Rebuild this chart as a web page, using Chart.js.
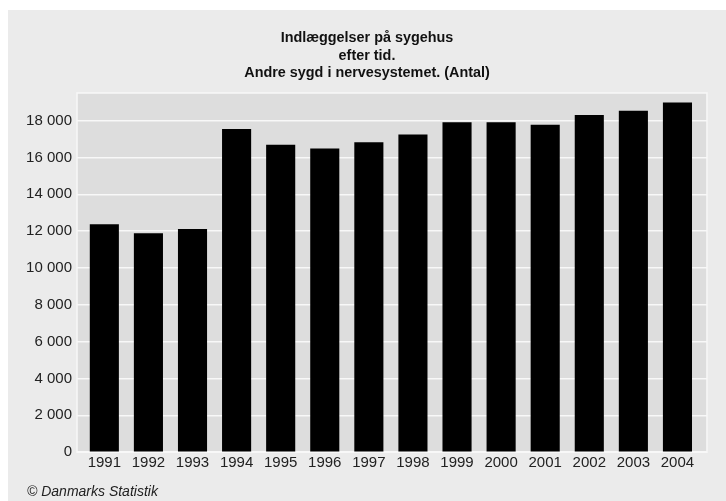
<!DOCTYPE html>
<html>
<head>
<meta charset="utf-8">
<script src="https://cdn.jsdelivr.net/npm/chart.js@4"></script>
<style>
  html, body { margin: 0; padding: 0; background: #ffffff; }
  #panel { position: absolute; left: 8px; top: 10px; width: 718px; height: 491px; background: #ebebeb; }
</style>
</head>
<body>
<div id="panel"><canvas id="myChart" width="718" height="491"></canvas></div>
<script>
// aar og antal indlaeggelser
const years = [1991, 1992, 1993, 1994, 1995, 1996, 1997, 1998, 1999, 2000, 2001, 2002, 2003, 2004];
const counts = [12380, 11890, 12110, 17550, 16690, 16490, 16820, 17240, 17910, 17910, 17780, 18310, 18530, 18980];
const titleLines = ['Indlæggelser på sygehus', 'efter tid.', 'Andre sygd i nervesystemet. (Antal)'];
const sourceText = '© Danmarks Statistik';

// tusindtal med mellemrum
function fmt(v) {
    return String(v).replace(/\B(?=(\d{3})+(?!\d))/g, '\u00a0');
}

// graa plotflade med hvid kant
const plotBg = {
    id: 'plotBg',
    beforeDraw(chart) {
        const a = chart.chartArea;
        const ctx = chart.ctx;
        ctx.save();
        ctx.fillStyle = '#dddddd';
        ctx.fillRect(a.left, a.top, a.right - a.left, a.bottom - a.top);
        ctx.strokeStyle = '#f8f8f8';
        ctx.lineWidth = 1.5;
        ctx.strokeRect(a.left, a.top, a.right - a.left, a.bottom - a.top);
        ctx.restore();
    }
};

const data = {
    datasets: [{
        label: 'Antal',
        backgroundColor: '#000000',
        borderWidth: 0,
        barPercentage: 0.66,
        categoryPercentage: 1,
        data: years.map((y, i) => ({ x: y, y: counts[i] })),
    }]
};

const tickFont = { family: "'Liberation Sans', Arial, sans-serif", size: 15 };

const config = {
    type: 'bar',
    data: data,
    options: {
        responsive: false,
        animation: false,
        layout: { padding: { left: 19, right: 19, top: 0, bottom: 0 } },
        plugins: {
            legend: { display: false },
            tooltip: { enabled: false },
            title: {
                display: true,
                text: titleLines,
                color: '#111111',
                font: { family: "'Liberation Sans Narrow', 'Arial Narrow', 'Liberation Sans', sans-serif", size: 14.4, weight: 'bold', lineHeight: 1.215 },
                padding: { top: 19.5, bottom: 11 }
            },
            subtitle: {
                display: true,
                text: sourceText,
                position: 'bottom',
                align: 'start',
                color: '#222222',
                font: { family: "'Liberation Sans', Arial, sans-serif", size: 14, style: 'italic', lineHeight: 1.2 },
                padding: { top: 5, bottom: 0 }
            }
        },
        scales: {
            x: {
                type: 'linear',
                offset: false,
                min: 1990.38,
                max: 2004.67,
                afterFit: (s) => { s.height = 27; },
                grid: { display: false, drawTicks: false },
                border: { display: false },
                ticks: {
                    stepSize: 1,
                    includeBounds: false,
                    padding: 2,
                    color: '#222222',
                    font: tickFont,
                    callback: (v) => String(v)
                }
            },
            y: {
                beginAtZero: true,
                max: 19500,
                afterFit: (s) => { s.width = 50; },
                grid: { color: '#f8f8f8', lineWidth: 1.5, drawTicks: false },
                border: { display: false },
                ticks: {
                    stepSize: 2000,
                    includeBounds: false,
                    padding: 5,
                    color: '#222222',
                    font: tickFont,
                    callback: (v) => fmt(v)
                }
            }
        }
    },
    plugins: [plotBg]
};

const myChart = new Chart(document.getElementById('myChart'), config);
</script>
</body>
</html>
